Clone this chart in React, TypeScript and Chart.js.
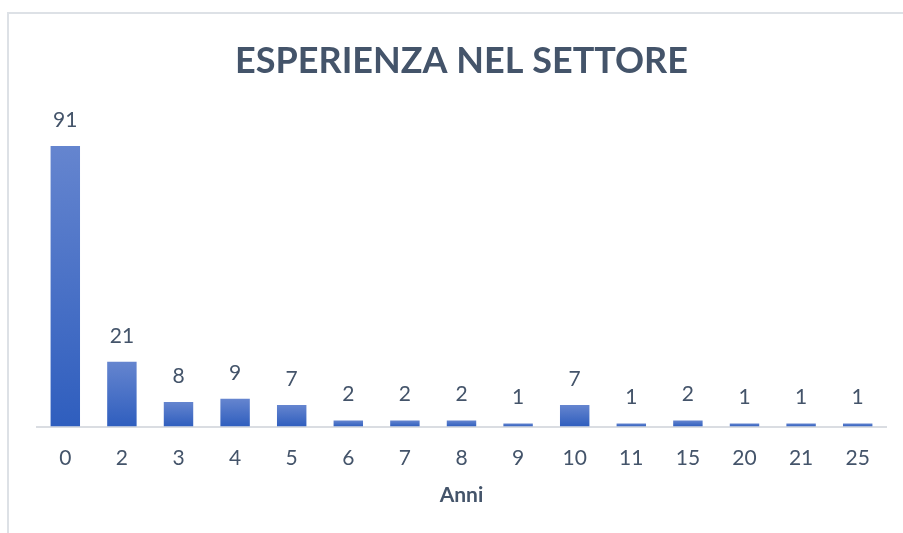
import React, { useEffect, useRef } from "react";
import { Chart, registerables } from "chart.js";

Chart.register(...registerables);

const categories = ["0", "2", "3", "4", "5", "6", "7", "8", "9", "10", "11", "15", "20", "21", "25"];
const values = [91, 21, 8, 9, 7, 2, 2, 2, 1, 7, 1, 2, 1, 1, 1];
const titleText = "ESPERIENZA NEL SETTORE";
const axisTitle = "Anni";

const TEXT = "#44546A";
const FONT = "Lato, 'Open Sans', sans-serif";

const labelPlugin = {
  id: "valueLabels",
  afterDatasetsDraw(chart: any) {
    const ctx = chart.ctx;
    const meta = chart.getDatasetMeta(0);
    ctx.save();
    ctx.fillStyle = TEXT;
    ctx.font = `21px ${FONT}`;
    ctx.textAlign = "center";
    ctx.textBaseline = "middle";
    meta.data.forEach((el: any, i: number) => {
      ctx.fillText(String(values[i]), el.x, el.y - 26);
    });
    ctx.restore();
  },
};

export default function App() {
  const ref = useRef<HTMLCanvasElement>(null);
  useEffect(() => {
    const canvas = ref.current!;
    const chart = new Chart(canvas, {
      type: "bar",
      data: {
        labels: categories,
        datasets: [
          {
            data: values,
            backgroundColor: (c: any) => {
              const ch = c.chart;
              const y = ch.scales.y;
              if (!y || c.raw == null) return "#4472C4";
              const top = y.getPixelForValue(c.raw);
              const base = y.getPixelForValue(0);
              if (!isFinite(top) || !isFinite(base) || base - top < 1) return "#3F68C6";
              const g = ch.ctx.createLinearGradient(0, top, 0, base);
              g.addColorStop(0, "#6585CF");
              g.addColorStop(1, "#2F5EBE");
              return g;
            },
            borderWidth: 0,
            categoryPercentage: 1,
            barPercentage: 0.52,
          },
        ],
      },
      options: {
        animation: false,
        responsive: false,
        events: [],
        layout: { padding: { left: 28, right: 17, top: 0, bottom: 25 } },
        plugins: {
          legend: { display: false },
          tooltip: { enabled: false },
          title: {
            display: true,
            text: titleText,
            color: TEXT,
            font: { family: FONT, size: 36, weight: "bold" },
            padding: { top: 26, bottom: 35 },
          },
        },
        scales: {
          x: {
            grid: { display: false, drawTicks: false },
            border: { display: true, color: "#DADDE2", width: 2 },
            ticks: { color: TEXT, font: { family: FONT, size: 21 }, padding: 19, maxRotation: 0, autoSkip: false },
            title: {
              display: true,
              text: axisTitle,
              color: TEXT,
              font: { family: FONT, size: 21, weight: "bold" },
              padding: { top: -7, bottom: 0 },
            },
          },
          y: {
            display: false,
            min: 0,
            max: 100,
          },
        },
      },
      plugins: [labelPlugin],
    });
    return () => chart.destroy();
  }, []);
  return (
    <div
      style={{
        position: "fixed",
        left: 7,
        top: 12,
        width: 896,
        height: 521,
        borderLeft: "2px solid #DDE1E6",
        borderTop: "2px solid #DDE1E6",
        background: "#fff",
      }}
    >
      <canvas ref={ref} width={894} height={519} style={{ display: "block" }} />
    </div>
  );
}
